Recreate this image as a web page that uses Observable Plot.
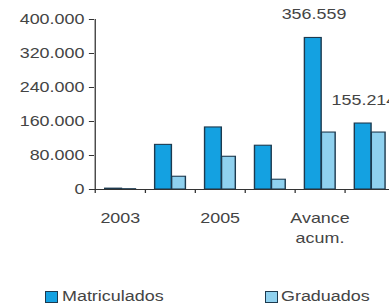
<!DOCTYPE html>
<html><head><meta charset="utf-8">
<script src="https://cdn.jsdelivr.net/npm/d3@7"></script>
<script src="https://cdn.jsdelivr.net/npm/@observablehq/plot@0.6"></script>
<style>
body{margin:0;background:#fff;font-family:"Liberation Sans",Arial,sans-serif;}
#chart{position:relative;width:389px;height:306px;overflow:hidden;}
#chart svg{position:absolute;left:0;top:0;transform:scaleX(1.28);transform-origin:0 0;}
.sw{position:absolute;top:291px;width:11px;height:10px;border:1px solid #1d3a4f;}
.lt{position:absolute;top:288px;font-size:14px;line-height:17px;color:#444;white-space:nowrap;transform:scaleX(1.28);transform-origin:0 50%;}
</style></head><body><div id="chart"></div>
<script>
const categories = ["2003", "2004", "2005", "2006", "Avance acum.", "Meta"];
const matriculados = [2000, 105000, 146000, 103000, 356559, 155214];
const graduados = [700, 30000, 77000, 23000, 134000, 134000];
const xTickLabels = ["2003", "", "2005", "", "Avance\nacum.", ""];
const valueLabels = ["", "", "", "", "356.559", "155.214"];
const yTicks = [0, 80000, 160000, 240000, 320000, 400000];
const seriesNames = ["Matriculados", "Graduados"];
const seriesColors = ["#14a1e1", "#8fd1ef"];

const S = 1.28; // horizontal stretch of the original picture
const data = categories.map((c, i) => ({cat: c, mat: matriculados[i], grad: graduados[i], label: valueLabels[i]}));
const x0 = 94 / S, x1 = 395 / S;
const bw = (x1 - x0) / categories.length;
const fmt = d => d3.format(",")(d).replace(/,/g, ".");
const outline = "#1d3a4f";
const ink = "#444";

const plot = Plot.plot({
  width: Math.round(389 / S), height: 250,
  marginTop: 19, marginBottom: 61, marginLeft: x0, marginRight: 0,
  style: {fontFamily: "'Liberation Sans', Arial, sans-serif", color: ink, background: "transparent", overflow: "hidden"},
  x: {domain: categories, range: [x0, x1], paddingInner: 0, paddingOuter: 0, axis: null},
  y: {domain: [0, 400000], axis: null},
  marks: [
    Plot.barY(data, {x: "cat", y: "mat", fill: seriesColors[0], stroke: outline, strokeWidth: 1.1, insetLeft: 10 / S, insetRight: bw - 27 / S}),
    Plot.barY(data, {x: "cat", y: "grad", fill: seriesColors[1], stroke: outline, strokeWidth: 1.1, insetLeft: 27 / S, insetRight: bw - 41 / S}),
    Plot.ruleY([0], {stroke: "#333", strokeWidth: 1.1}),
    Plot.ruleX([categories[0]], {y1: 0, y2: 400000, dx: -bw / 2, stroke: "#333", strokeWidth: 1}),
    Plot.ruleX(categories, {dx: bw / 2, insetTop: 170, insetBottom: -4, stroke: "#333", strokeWidth: 1}),
    Plot.ruleX([categories[0]], {dx: -bw / 2, insetTop: 170, insetBottom: -4, stroke: "#333", strokeWidth: 1}),
    Plot.axisY({ticks: yTicks, tickFormat: fmt, tickSize: 4, tickPadding: 4, fontSize: 14, stroke: "#333", label: null}),
    Plot.axisX({tickSize: 0, tickPadding: 20, tickFormat: d => xTickLabels[categories.indexOf(d)], fontSize: 14, lineHeight: 1.4, label: null}),
    Plot.text(data.filter(d => d.label), {x: "cat", y: "mat", text: "label", dy: -23, dx: -6 / S, fontSize: 14, fill: ink})
  ]
});
const chart = document.getElementById("chart");
chart.appendChild(plot);

const swatchX = [45, 265];
const textX = [62, 281];
seriesNames.forEach((name, i) => {
  const sw = document.createElement("div");
  sw.className = "sw";
  sw.style.left = swatchX[i] + "px";
  sw.style.background = seriesColors[i];
  chart.appendChild(sw);
  const t = document.createElement("div");
  t.className = "lt";
  t.style.left = textX[i] + "px";
  t.textContent = name;
  chart.appendChild(t);
});
</script></body></html>
